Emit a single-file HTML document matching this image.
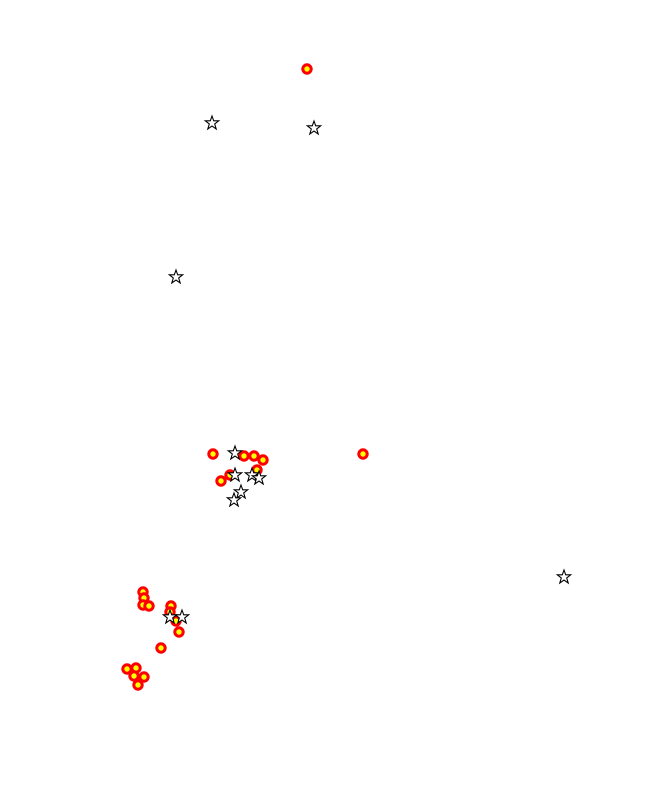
<!DOCTYPE html>
<html><head><style>html,body{margin:0;padding:0;background:#fff}svg{display:block}</style></head>
<body>
<svg width="650" height="810" viewBox="0 0 650 810" xmlns="http://www.w3.org/2000/svg">
<defs>
<g id="c"><circle r="4.2" fill="#ffff00" stroke="#ff0000" stroke-width="3"/></g>
<path id="s" d="M0,-7 L1.7,-2.2 L6.7,-2.2 L2.7,1 L4.2,6 L0,3 L-4.2,6 L-2.7,1 L-6.7,-2.2 L-1.7,-2.2 Z" fill="#fff" stroke="#000" stroke-width="1.1"/>
</defs>
<g transform="translate(1,1)">
<use href="#c" x="306" y="68"/>
<use href="#c" x="212" y="453"/><use href="#c" x="243" y="455"/><use href="#c" x="253" y="455"/>
<use href="#c" x="262" y="459"/><use href="#c" x="362" y="453"/><use href="#c" x="256" y="469"/>
<use href="#c" x="229" y="474"/><use href="#c" x="220" y="480"/>
<use href="#c" x="142" y="591"/><use href="#c" x="143" y="597"/><use href="#c" x="142" y="604"/>
<use href="#c" x="148" y="605"/><use href="#c" x="170" y="605"/><use href="#c" x="169" y="611"/>
<use href="#c" x="175" y="620"/><use href="#c" x="178" y="631"/><use href="#c" x="160" y="647"/>
<use href="#c" x="126" y="668"/><use href="#c" x="135" y="667"/><use href="#c" x="133" y="675"/>
<use href="#c" x="143" y="676"/><use href="#c" x="137" y="684"/>
<use href="#s" x="211" y="122"/><use href="#s" x="313" y="127"/><use href="#s" x="175" y="276"/>
<use href="#s" x="563" y="576"/>
<use href="#s" x="234" y="452"/><use href="#s" x="234" y="474"/><use href="#s" x="251" y="474"/>
<use href="#s" x="258" y="477"/><use href="#s" x="240" y="491"/><use href="#s" x="233" y="499"/>
<use href="#s" x="169" y="616"/><use href="#s" x="181" y="616"/>
</g>
</svg>
</body></html>
